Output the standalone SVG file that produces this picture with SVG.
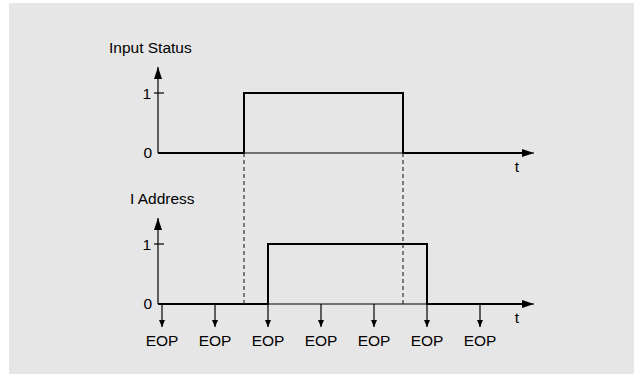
<svg xmlns="http://www.w3.org/2000/svg" width="634" height="374" viewBox="0 0 634 374">
<style>
text{font-family:"Liberation Sans",Arial,Helvetica,sans-serif;fill:#000;font-size:15.5px}
.ax{stroke:#000;stroke-width:1.2;fill:none}
.sig{stroke:#000;stroke-width:2;fill:none}
.dash{stroke:#333;stroke-width:1.2;stroke-dasharray:4 3;fill:none}
.eop{stroke:#000;stroke-width:1.2;fill:none}
</style>
<defs>
<marker id="ah" markerWidth="12" markerHeight="8" refX="12" refY="4" orient="auto" markerUnits="userSpaceOnUse">
<path d="M0,0 L12,4 L0,8 Z" fill="#000"/>
</marker>
<marker id="sh" markerWidth="7" markerHeight="6" refX="7" refY="3" orient="auto" markerUnits="userSpaceOnUse">
<path d="M0,0 L7,3 L0,6 Z" fill="#000"/>
</marker>
</defs>
<rect x="9" y="3" width="625" height="371" fill="#e6e6e6"/>
<g id="input-status">
<text x="109" y="53">Input Status</text>
<line class="ax" x1="158" y1="153" x2="158" y2="67" marker-end="url(#ah)"/>
<line class="ax" x1="158" y1="153" x2="534" y2="153" marker-end="url(#ah)"/>
<line class="ax" x1="154" y1="93" x2="164" y2="93"/>
<text x="151" y="99" text-anchor="end">1</text>
<text x="152" y="158" text-anchor="end">0</text>
<polyline class="sig" points="158,153 244,153 244,93 403,93 403,153 522,153"/>
<text x="517" y="172" text-anchor="middle">t</text>
</g>
<g id="i-address">
<text x="130" y="204">I Address</text>
<line class="ax" x1="158" y1="304" x2="158" y2="218" marker-end="url(#ah)"/>
<line class="ax" x1="158" y1="304" x2="534" y2="304" marker-end="url(#ah)"/>
<line class="ax" x1="154" y1="244" x2="164" y2="244"/>
<text x="151" y="250" text-anchor="end">1</text>
<text x="152" y="309" text-anchor="end">0</text>
<polyline class="sig" points="158,304 268,304 268,244 427,244 427,304 522,304"/>
<text x="517" y="323" text-anchor="middle">t</text>
</g>
<g id="connectors">
<line class="dash" x1="244" y1="153" x2="244" y2="304"/>
<line class="dash" x1="403" y1="153" x2="403" y2="304"/>
<line class="eop" x1="162" y1="304" x2="162" y2="327" marker-end="url(#sh)"/>
<line class="eop" x1="215" y1="304" x2="215" y2="327" marker-end="url(#sh)"/>
<line class="eop" x1="268" y1="304" x2="268" y2="327" marker-end="url(#sh)"/>
<line class="eop" x1="321" y1="304" x2="321" y2="327" marker-end="url(#sh)"/>
<line class="eop" x1="374" y1="304" x2="374" y2="327" marker-end="url(#sh)"/>
<line class="eop" x1="427" y1="304" x2="427" y2="327" marker-end="url(#sh)"/>
<line class="eop" x1="480" y1="304" x2="480" y2="327" marker-end="url(#sh)"/>
</g>
<g id="eop-labels">
<text x="162" y="346" text-anchor="middle">EOP</text>
<text x="215" y="346" text-anchor="middle">EOP</text>
<text x="268" y="346" text-anchor="middle">EOP</text>
<text x="321" y="346" text-anchor="middle">EOP</text>
<text x="374" y="346" text-anchor="middle">EOP</text>
<text x="427" y="346" text-anchor="middle">EOP</text>
<text x="480" y="346" text-anchor="middle">EOP</text>
</g>
</svg>
